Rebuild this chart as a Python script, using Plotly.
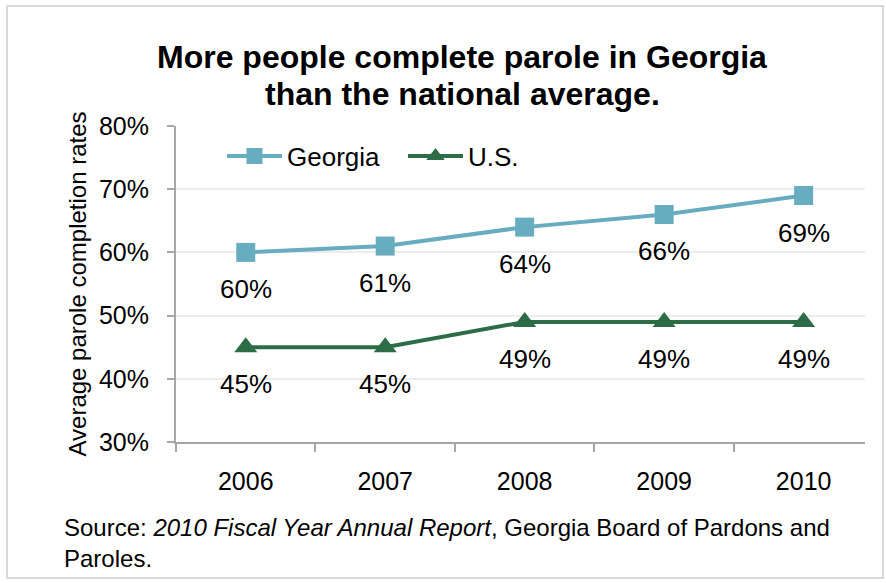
import plotly.graph_objects as go

years = ["2006", "2007", "2008", "2009", "2010"]
georgia = [60, 61, 64, 66, 69]
us = [45, 45, 49, 49, 49]
y_ticks = [30, 40, 50, 60, 70, 80]
y_tick_labels = [f"{v}%" for v in y_ticks]
title_lines = ["More people complete parole in Georgia", "than the national average."]

GA_COLOR = "#68acc0"
US_COLOR = "#2c6d47"
FONT = "Liberation Sans, Arial, sans-serif"

W, H = 886, 583
L, R, T, B = 176, 21, 126, 141
pw, ph = W - L - R, H - T - B


def px_x(p):
    return (p - L) / pw


def px_y(p):
    return (H - B - p) / ph


fig = go.Figure()
fig.add_trace(go.Scatter(
    x=years, y=georgia, name="Georgia", mode="lines+markers",
    line=dict(color=GA_COLOR, width=4),
    marker=dict(symbol="square", size=19, color=GA_COLOR),
))
fig.add_trace(go.Scatter(
    x=years, y=us, name="U.S.", mode="lines+markers",
    line=dict(color=US_COLOR, width=4),
    marker=dict(symbol="triangle-up", size=20, color=US_COLOR),
))

annotations = []
# value labels below each point (category index on x)
for series in (georgia, us):
    for i, yv in enumerate(series):
        annotations.append(dict(
            x=i, y=yv, xref="x", yref="y", text=f"{yv}%", showarrow=False,
            yshift=-37, font=dict(size=26, color="#000000", family=FONT),
        ))

# two-line bold title
for line, ypix in zip(title_lines, (57, 94)):
    annotations.append(dict(
        x=px_x(462), y=px_y(ypix), xref="paper", yref="paper",
        xanchor="center", yanchor="middle", showarrow=False,
        text=f"<b>{line}</b>", font=dict(size=32, color="#000000", family=FONT),
    ))

annotations.append(dict(
    x=px_x(62), y=px_y(543), xref="paper", yref="paper", xanchor="left", yanchor="middle",
    align="left", showarrow=False,
    text="Source: <i>2010 Fiscal Year Annual Report</i>, Georgia Board of Pardons and<br>Paroles.",
    font=dict(size=24, color="#000000", family=FONT),
))

fig.update_layout(
    width=W, height=H,
    margin=dict(l=L, r=R, t=T, b=B),
    paper_bgcolor="white", plot_bgcolor="white",
    font=dict(family=FONT, color="#000000"),
    showlegend=True,
    legend=dict(
        orientation="h", x=px_x(222), y=px_y(156), xanchor="left", yanchor="middle",
        font=dict(size=26, family=FONT), bgcolor="rgba(0,0,0,0)",
        itemwidth=55, entrywidth=111, entrywidthmode="pixels", tracegroupgap=0,
    ),
    annotations=annotations,
    shapes=[dict(
        type="rect", xref="paper", yref="paper",
        x0=px_x(7), x1=px_x(883), y0=px_y(578), y1=px_y(6),
        line=dict(color="#d9d9d9", width=2), layer="below",
    )],
)

fig.update_xaxes(
    type="category", range=[-0.5, 4.44], tickson="boundaries", ticks="outside",
    ticklen=8, tickwidth=2, tickcolor="#a6a6a6", showline=True, linecolor="#a6a6a6",
    linewidth=2, showgrid=False, tickfont=dict(size=25, family=FONT), ticklabelstandoff=16,
)
fig.update_yaxes(
    range=[30, 80], tickvals=y_ticks, ticktext=y_tick_labels,
    ticks="outside", ticklen=7, tickwidth=2, tickcolor="#a6a6a6",
    showline=True, linecolor="#a6a6a6", linewidth=2,
    showgrid=True, gridcolor="#ececec", gridwidth=2, zeroline=False,
    tickfont=dict(size=25, family=FONT), ticklabelstandoff=13,
    title=dict(text="Average parole completion rates", font=dict(size=24, family=FONT), standoff=6),
)

fig.write_html("out.html")
